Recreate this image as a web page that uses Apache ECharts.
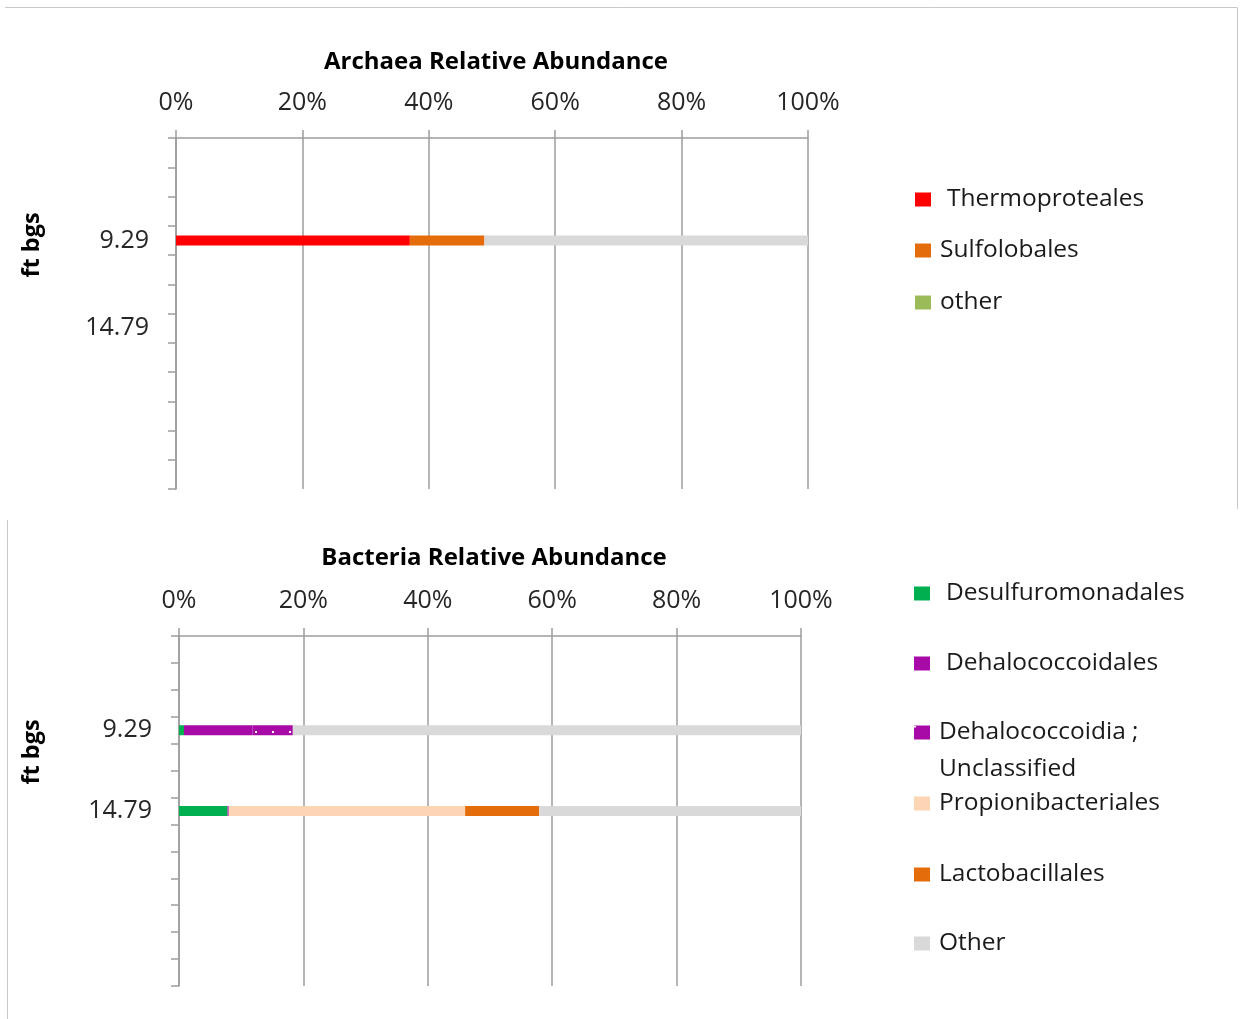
<!DOCTYPE html>
<html><head><meta charset="utf-8">
<script src="https://cdn.jsdelivr.net/npm/echarts@6/dist/echarts.min.js"></script>
<style>html,body{margin:0;padding:0;background:#fff}#c{width:1243px;height:1019px}</style>
</head><body><div id="c"></div>
<script>
// ---- data ----
var pctTicks = ['0%','20%','40%','60%','80%','100%'];
var archaeaDepthLabels = ['', '', '', '9.29', '', '', '14.79', '', '', '', '', ''];
var bacteriaDepthLabels = ['', '', '', '9.29', '', '', '14.79', '', '', '', '', '', ''];
// archaea values (% of total) per category row
var thermoproteales = [null, null, null, 37.0, null, null, 0, null, null, null, null, null];
var sulfolobales    = [null, null, null, 11.8, null, null, 0, null, null, null, null, null];
var archaeaOther    = [null, null, null, 0,    null, null, 0, null, null, null, null, null];
var archaeaRest     = [null, null, null, 51.2, null, null, 0, null, null, null, null, null];
// bacteria values
var desulfuromonadales  = [null, null, null, 0.8,  null, null, 7.8,  null, null, null, null, null, null];
var dehalococcoidales   = [null, null, null, 11.0, null, null, 0.2,  null, null, null, null, null, null];
var dehalococcoidiaUnc  = [null, null, null, 6.5,  null, null, 0,    null, null, null, null, null, null];
var propionibacteriales = [null, null, null, 0,    null, null, 38.0, null, null, null, null, null, null];
var lactobacillales     = [null, null, null, 0,    null, null, 11.9, null, null, null, null, null, null];
var bacteriaOther       = [null, null, null, 81.7, null, null, 42.1, null, null, null, null, null, null];

var FONT = 'Open Sans';
var grey = '#9d9d9d';
var chart = echarts.init(document.getElementById('c'));

function idx(n){var a=[];for(var i=0;i<n;i++)a.push('r'+i);return a;}

function xAx(gi){
  return {
    gridIndex: gi, type: 'value', position: 'top', min: 0, max: 100, interval: 20,
    axisLine: {show: true, lineStyle: {color: grey, width: 1.5}},
    axisTick: {show: true, length: 8, lineStyle: {color: grey, width: 1.5}},
    splitLine: {show: true, lineStyle: {color: grey, width: 1.5}},
    axisLabel: {margin: 23, color: '#262626', fontFamily: FONT, fontSize: 25,
      formatter: function(v){ return pctTicks[Math.round(v/20)]; }}
  };
}
function yAx(gi, labels){
  return {
    gridIndex: gi, type: 'category', inverse: true, data: idx(labels.length),
    axisLine: {show: true, lineStyle: {color: grey, width: 1.5}},
    axisTick: {show: true, interval: 0, length: 8, lineStyle: {color: grey, width: 1.5}},
    axisLabel: {interval: 0, margin: 27, color: '#262626', fontFamily: FONT, fontSize: 25,
      formatter: function(v, i){ return labels[i]; }}
  };
}
function bar(name, data, color, xi, decal){
  var s = {name: name, type: 'bar', stack: 's' + xi, xAxisIndex: xi, yAxisIndex: xi,
    data: data, barWidth: 10, itemStyle: {color: color}, silent: true};
  if (decal) s.itemStyle.decal = decal;
  return s;
}
var legText = {fontFamily: FONT, fontSize: 24.5, color: '#1a1a1a',
  rich: {
    n: {fontFamily: FONT, fontSize: 24.5, color: '#1a1a1a', padding: [0,0,0,4]},
    w: {fontFamily: FONT, fontSize: 24.5, color: '#1a1a1a', padding: [0,0,0,11]},
    e: {fontFamily: FONT, fontSize: 24.5, lineHeight: 37, height: 37},
    m: {fontFamily: FONT, fontSize: 24.5, color: '#1a1a1a', lineHeight: 37, padding: [0,0,0,4]}
  }};
function leg(name, top, left, fmt){
  return {data: [name], orient: 'vertical', left: left, top: top, padding: 0, itemWidth: 16, itemHeight: 14,
    itemGap: 0, selectedMode: false, icon: 'rect', textStyle: legText,
    formatter: fmt || function(n){ return '{n|' + n + '}'; }};
}
var wide = function(n){ return '{w|' + n + '}'; };

var dotDecal = {color: '#ffffff', symbol: 'rect', symbolSize: 1, dashArrayX: [2, 15], dashArrayY: [2, 15], rotation: 0};

chart.setOption({
  animation: false,
  textStyle: {fontFamily: FONT},
  title: [
    {text: 'Archaea Relative Abundance', left: 491, top: 45, textAlign: 'center',
     textStyle: {fontFamily: FONT, fontWeight: 'bold', fontSize: 24, color: '#000'}},
    {text: 'Bacteria Relative Abundance', left: 489, top: 541, textAlign: 'center',
     textStyle: {fontFamily: FONT, fontWeight: 'bold', fontSize: 24, color: '#000'}}
  ],
  grid: [
    {left: 176, top: 138, width: 632, height: 351},
    {left: 179, top: 636, width: 622, height: 350}
  ],
  xAxis: [xAx(0), xAx(1)],
  yAxis: [yAx(0, archaeaDepthLabels), yAx(1, bacteriaDepthLabels)],
  legend: [
    leg('Thermoproteales', 187, 915, wide),
    leg('Sulfolobales', 238, 915),
    leg('other', 290, 915),
    leg('Desulfuromonadales', 581, 914, wide),
    leg('Dehalococcoidales', 651, 914, wide),
    leg('Dehalococcoidia ; Unclassified', 677, 914, function(n){
      return '{e| }\n{m|Dehalococcoidia ;}\n{m|Unclassified}'; }),
    leg('Propionibacteriales', 791, 914),
    leg('Lactobacillales', 862, 914),
    leg('Other', 931, 914)
  ],
  graphic: [
    {type: 'line', shape: {x1: 5, y1: 7.5, x2: 1237.5, y2: 7.5}, style: {stroke: '#c8c8c8', lineWidth: 1}, silent: true},
    {type: 'line', shape: {x1: 1237.5, y1: 7.5, x2: 1237.5, y2: 509}, style: {stroke: '#c8c8c8', lineWidth: 1}, silent: true},
    {type: 'line', shape: {x1: 7.5, y1: 520, x2: 7.5, y2: 1019}, style: {stroke: '#c8c8c8', lineWidth: 1}, silent: true},
    {type: 'text', x: 32, y: 245, rotation: Math.PI / 2, silent: true,
     style: {text: 'ft bgs', x: 0, y: 0, align: 'center', verticalAlign: 'middle', fill: '#000',
       font: 'bold 23.5px "Open Sans"'}},
    {type: 'text', x: 32, y: 752, rotation: Math.PI / 2, silent: true,
     style: {text: 'ft bgs', x: 0, y: 0, align: 'center', verticalAlign: 'middle', fill: '#000',
       font: 'bold 23.5px "Open Sans"'}}
  ],
  series: [
    bar('Thermoproteales', thermoproteales, '#ff0000', 0),
    bar('Sulfolobales', sulfolobales, '#e46c0a', 0),
    bar('other', archaeaOther, '#9bbb59', 0),
    bar('Remainder', archaeaRest, '#d9d9d9', 0),
    bar('Desulfuromonadales', desulfuromonadales, '#00b050', 1),
    bar('Dehalococcoidales', dehalococcoidales, '#a80aa8', 1),
    bar('Dehalococcoidia ; Unclassified', dehalococcoidiaUnc, '#a80aa8', 1, dotDecal),
    bar('Propionibacteriales', propionibacteriales, '#fcd5b5', 1),
    bar('Lactobacillales', lactobacillales, '#e46c0a', 1),
    bar('Other', bacteriaOther, '#d9d9d9', 1)
  ]
});
</script></body></html>
